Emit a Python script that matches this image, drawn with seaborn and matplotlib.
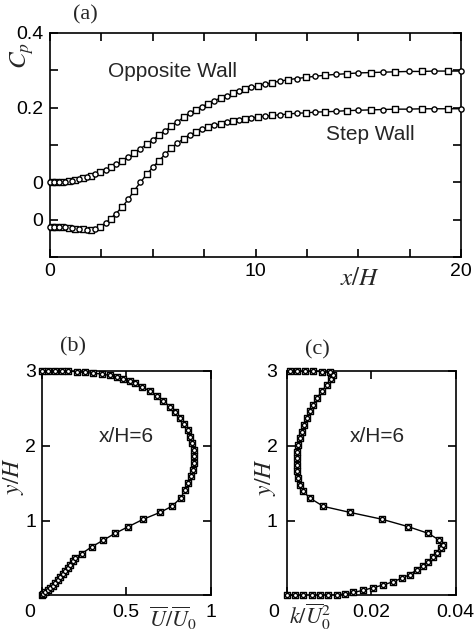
import numpy as np
import pandas as pd
import matplotlib
matplotlib.use("Agg")
import matplotlib.pyplot as plt
import matplotlib.transforms as mtransforms
import seaborn as sns

# ---------------- data ----------------
# panel (a): wall pressure coefficient
xh = [0, 0.1, 0.2, 0.3, 0.45, 0.6, 0.75, 0.9, 1.05, 1.2,
      1.4, 1.6, 1.8, 2.0, 2.2, 2.45, 2.7, 2.95, 3.2, 3.5,
      3.8, 4.1, 4.4, 4.7, 5.0, 5.3, 5.6, 5.9, 6.2, 6.5,
      6.8, 7.1, 7.4, 7.7, 8.0, 8.3, 8.6, 8.9, 9.2, 9.5,
      9.8, 10.1, 10.45, 10.8, 11.2, 11.6, 12.0, 12.45, 12.9, 13.4,
      13.9, 14.45, 15.0, 15.6, 16.2, 16.8, 17.45, 18.1, 18.7, 19.35,
      20.0]
cp_opposite = [0.000, 0.000, 0.000, 0.000, 0.001, 0.001, 0.002, 0.003, 0.004, 0.006,
               0.008, 0.011, 0.014, 0.018, 0.022, 0.027, 0.033, 0.040, 0.048, 0.057,
               0.067, 0.078, 0.090, 0.102, 0.114, 0.126, 0.138, 0.150, 0.162, 0.174,
               0.185, 0.195, 0.203, 0.211, 0.219, 0.226, 0.232, 0.238, 0.244, 0.249,
               0.254, 0.258, 0.263, 0.267, 0.271, 0.275, 0.278, 0.281, 0.284, 0.287,
               0.289, 0.291, 0.293, 0.294, 0.295, 0.296, 0.297, 0.297, 0.298, 0.298,
               0.298]
cp_step = [-0.119, -0.119, -0.119, -0.119, -0.120, -0.120, -0.121, -0.122, -0.123, -0.124,
           -0.125, -0.126, -0.127, -0.127, -0.125, -0.120, -0.110, -0.097, -0.084, -0.067,
           -0.046, -0.022, 0.000, 0.021, 0.040, 0.058, 0.075, 0.091, 0.105, 0.117,
           0.127, 0.135, 0.142, 0.148, 0.153, 0.157, 0.161, 0.164, 0.167, 0.170,
           0.173, 0.175, 0.177, 0.179, 0.181, 0.183, 0.185, 0.186, 0.188, 0.189,
           0.190, 0.192, 0.193, 0.194, 0.195, 0.196, 0.196, 0.197, 0.197, 0.197,
           0.197]

# panel (b): mean velocity profile at x/H = 6
b_y = [0.0, 0.02, 0.04, 0.07, 0.10, 0.13, 0.17, 0.21, 0.25, 0.29,
       0.33, 0.37, 0.41, 0.46, 0.50, 0.56, 0.65, 0.74, 0.83, 0.92,
       1.02, 1.11, 1.19, 1.30, 1.41, 1.50, 1.59, 1.68, 1.77, 1.86,
       1.95, 2.04, 2.12, 2.21, 2.29, 2.37, 2.45, 2.52, 2.60, 2.67,
       2.73, 2.79, 2.84, 2.87, 2.89, 2.92, 2.94, 2.96, 2.97, 2.98,
       2.99, 3.0, 3.0, 3.0, 3.0, 3.0]
b_u = [0.0, 0.01, 0.02, 0.035, 0.05, 0.065, 0.08, 0.095, 0.11, 0.125,
       0.14, 0.155, 0.17, 0.185, 0.197, 0.237, 0.296, 0.365, 0.434, 0.513,
       0.602, 0.700, 0.769, 0.822, 0.848, 0.868, 0.884, 0.893, 0.899, 0.901,
       0.899, 0.891, 0.877, 0.864, 0.844, 0.818, 0.789, 0.759, 0.720, 0.680,
       0.641, 0.592, 0.552, 0.522, 0.483, 0.444, 0.404, 0.355, 0.305, 0.256,
       0.207, 0.157, 0.118, 0.079, 0.039, 0.0]

# panel (c): turbulent kinetic energy profile at x/H = 6
c_y = [0.0, 0.0, 0.0, 0.0, 0.0, 0.0, 0.01, 0.02, 0.04, 0.07,
       0.105, 0.14, 0.185, 0.23, 0.28, 0.34, 0.40, 0.45, 0.51, 0.57,
       0.63, 0.68, 0.74, 0.83, 0.92, 1.02, 1.11, 1.19, 1.30, 1.39,
       1.48, 1.57, 1.66, 1.75, 1.84, 1.92, 2.01, 2.10, 2.19, 2.28,
       2.37, 2.46, 2.55, 2.64, 2.73, 2.81, 2.89, 2.95, 2.98, 2.99,
       3.0, 3.0, 3.0, 3.0]
c_k = [0.0, 0.0018, 0.0038, 0.0058, 0.0078, 0.0097, 0.0117, 0.0137, 0.0157, 0.0181,
       0.0204, 0.0228, 0.0252, 0.0272, 0.0291, 0.0307, 0.0323, 0.0335, 0.0347, 0.0356,
       0.0364, 0.0369, 0.0361, 0.0335, 0.0287, 0.0224, 0.0149, 0.0086, 0.0054, 0.0038,
       0.0030, 0.0026, 0.0024, 0.0022, 0.0022, 0.0024, 0.0026, 0.0030, 0.0034, 0.0040,
       0.0046, 0.0054, 0.0062, 0.0071, 0.0082, 0.0094, 0.0103, 0.0109, 0.0101, 0.0082,
       0.0062, 0.0042, 0.0022, 0.0006]

a_xticks = [0, 2.5, 5, 7.5, 10, 12.5, 15, 17.5, 20]
a_xticklabels = ["0", "", "", "", "10", "", "", "", "20"]
a_yticks = [-0.2, -0.1, 0.0, 0.1, 0.2, 0.3, 0.4]
a_yticklabels = ["", "0", "0", "", "0.2", "", "0.4"]

# ---------------- style ----------------
sns.set_style("ticks")
plt.rcParams["font.family"] = ["Liberation Sans", "DejaVu Sans"]
plt.rcParams["mathtext.fontset"] = "stix"
plt.rcParams["axes.linewidth"] = 1.2
plt.rcParams["axes.edgecolor"] = "black"

TICK_FS = 14
LABEL_FS = 18
ANN_FS = 15

fig = plt.figure(figsize=(4.75, 6.32), dpi=100)
ax_a = fig.add_axes([0.1053, 0.5934, 0.8653, 0.3544])
ax_b = fig.add_axes([0.0878, 0.0578, 0.3558, 0.3552])
ax_c = fig.add_axes([0.6048, 0.0578, 0.3545, 0.3552])


def style_axes(ax):
    ax.tick_params(direction="in", top=True, right=True, length=6, width=1.2,
                   labelsize=TICK_FS, colors="black")
    for s in ax.spines.values():
        s.set_visible(True)
        s.set_color("black")
        s.set_linewidth(1.2)


def draw_series(ax, x, y, ms_sq, ms_ci, orient="x", alternate=True, lw=1.0):
    df = pd.DataFrame({"x": x, "y": y})
    sns.lineplot(data=df, x="x", y="y", ax=ax, sort=False, estimator=None,
                 color="black", linewidth=lw, orient=orient)
    if alternate:
        circ = df.iloc[0::2]
        sq = df.iloc[1::2]
    else:
        circ = df
        sq = df
    sns.scatterplot(data=sq, x="x", y="y", ax=ax, marker="s", s=ms_sq,
                    facecolor="white", edgecolor="black", linewidth=1.0,
                    clip_on=False, zorder=3)
    sns.scatterplot(data=circ, x="x", y="y", ax=ax, marker="o", s=ms_ci,
                    facecolor="white", edgecolor="black", linewidth=1.0,
                    clip_on=False, zorder=4)


# ---------------- panel (a) ----------------
draw_series(ax_a, xh, cp_opposite, 14, 14)
draw_series(ax_a, xh, cp_step, 14, 14)
ax_a.set_xlim(0, 20)
ax_a.set_ylim(-0.2, 0.4)
ax_a.set_xticks(a_xticks)
ax_a.set_xticklabels(a_xticklabels)
ax_a.set_yticks(a_yticks)
ax_a.set_yticklabels(a_yticklabels)
style_axes(ax_a)
ax_a.tick_params(axis="x", pad=4)
ax_a.tick_params(axis="y", pad=5)
ax_a.set_xlabel(r"$x/H$", fontsize=LABEL_FS)
ax_a.xaxis.set_label_coords(0.754, -0.094)
ax_a.xaxis.label.set_va("center")
ax_a.set_ylabel(r"$C_p$", fontsize=LABEL_FS)
ax_a.yaxis.set_label_coords(-0.068, 0.90)
ax_a.yaxis.label.set_va("center")
ax_a.text(0.297, 0.830, "Opposite Wall", transform=ax_a.transAxes,
          ha="center", va="center", fontsize=ANN_FS)
ax_a.text(0.779, 0.545, "Step Wall", transform=ax_a.transAxes,
          ha="center", va="center", fontsize=ANN_FS)

# ---------------- panel (b) ----------------
draw_series(ax_b, b_u, b_y, 22, 9, orient="y", alternate=False)
ax_b.set_xlim(0, 1)
ax_b.set_ylim(0, 3)
ax_b.set_xticks([0, 0.5, 1])
ax_b.set_xticklabels(["0", "0.5", "1"])
ax_b.set_yticks([0, 1, 2, 3])
ax_b.set_yticklabels(["", "1", "2", "3"])
style_axes(ax_b)
ax_b.tick_params(axis="x", pad=6)
ax_b.tick_params(axis="y", pad=4)
ax_b.set_xlabel(r"$\overline{U}/\overline{U}_0$", fontsize=LABEL_FS - 2)
ax_b.xaxis.set_label_coords(0.777, -0.103)
ax_b.xaxis.label.set_va("center")
ax_b.set_ylabel(r"$y/H$", fontsize=LABEL_FS - 1)
ax_b.yaxis.set_label_coords(-0.168, 0.53)
ax_b.yaxis.label.set_va("center")
ax_b.text(0.499, 0.706, "x/H=6", transform=ax_b.transAxes,
          ha="center", va="center", fontsize=ANN_FS)

# ---------------- panel (c) ----------------
draw_series(ax_c, c_k, c_y, 22, 9, orient="y", alternate=False)
ax_c.set_xlim(0, 0.04)
ax_c.set_ylim(0, 3)
ax_c.set_xticks([0, 0.02, 0.04])
ax_c.set_xticklabels(["0", "0.02", "0.04"])
ax_c.set_yticks([0, 1, 2, 3])
ax_c.set_yticklabels(["", "1", "2", "3"])
style_axes(ax_c)
ax_c.tick_params(axis="x", pad=6)
ax_c.tick_params(axis="y", pad=7)
ax_c.set_xlabel(r"$k/\overline{U}_0^2$", fontsize=LABEL_FS - 2)
ax_c.xaxis.set_label_coords(0.135, -0.095)
ax_c.xaxis.label.set_va("center")
ax_c.set_ylabel(r"$y/H$", fontsize=LABEL_FS - 1)
ax_c.yaxis.set_label_coords(-0.13, 0.527)
ax_c.yaxis.label.set_va("center")
ax_c.text(0.533, 0.706, "x/H=6", transform=ax_c.transAxes,
          ha="center", va="center", fontsize=ANN_FS)

# shift the "0" x tick label of (b) and (c) to the left, as in the original
for ax, dx in ((ax_b, -12), (ax_c, -14)):
    lab = ax.xaxis.get_major_ticks()[0].label1
    lab.set_transform(lab.get_transform() +
                      mtransforms.ScaledTranslation(dx / 100, 0, fig.dpi_scale_trans))

# panel letters
serif = ["Liberation Serif", "DejaVu Serif"]
fig.text(85 / 475, 1 - 15 / 632, "(a)", ha="center", va="center",
         fontsize=16, family=serif)
fig.text(73 / 475, 1 - 347 / 632, "(b)", ha="center", va="center",
         fontsize=16, family=serif)
fig.text(317 / 475, 1 - 350 / 632, "(c)", ha="center", va="center",
         fontsize=16, family=serif)

fig.savefig("out.png", dpi=100)
